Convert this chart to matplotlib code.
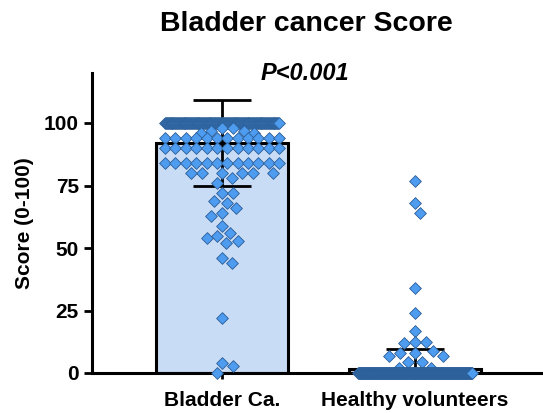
import matplotlib
matplotlib.use('Agg')
import matplotlib.pyplot as plt
import numpy as np

plt.rcParams['font.family'] = ['Liberation Sans', 'DejaVu Sans']
plt.rcParams['font.weight'] = 'bold'

groups = ['Bladder Ca.', 'Healthy volunteers']

# scores, value -> how many dots sit there
bladder_values = [100, 98, 97, 96, 94, 90, 84, 80, 78, 76, 72, 69, 68, 66, 64, 63,
                  59, 56, 55, 54, 53, 52, 46, 44, 22, 4, 3, 0]
bladder_counts = [124, 2, 2, 2, 12, 12, 12, 6, 1, 1, 2, 1, 1, 1, 1, 1,
                  1, 1, 1, 1, 1, 1, 1, 1, 1, 1, 1, 1]
healthy_values = [77, 68, 64, 34, 24, 17, 12.5, 12, 9, 8, 7, 4.5, 2, 0]
healthy_counts = [1, 1, 1, 1, 1, 1, 2, 1, 1, 2, 2, 2, 2, 230]

bladder = np.repeat(bladder_values, bladder_counts).astype(float)
healthy = np.repeat(healthy_values, healthy_counts).astype(float)
data = [bladder, healthy]

# pixel scales of the axes (for the dot layout)
XPX = 193.0   # px per category unit
YPX = 2.5     # px per score unit
D = 11.0      # dot spacing in px
HALF = 57.0   # max half spread in px


def swarm(vals):
    y = vals * YPX
    xs = np.zeros(len(vals))
    done = np.zeros(len(vals), bool)
    is_row = np.zeros(len(vals), bool)
    cap = int(2 * HALF // D) + 1
    u, c = np.unique(vals, return_counts=True)
    for v, n in zip(u, c):
        if n > cap:
            idx = np.where(vals == v)[0]
            xs[idx] = np.linspace(-HALF, HALF, n)
            done[idx] = True
            is_row[idx] = True
    order = np.argsort(-vals, kind='stable')
    for i in order:
        if done[i]:
            continue
        for skip_rows in (False, True):
            pl = np.where(done & ~(is_row & skip_rows))[0]
            cands = [0.0]
            for j in pl:
                dy = abs(y[j] - y[i])
                if dy < D:
                    dx = np.sqrt(D * D - dy * dy)
                    cands += [xs[j] + dx, xs[j] - dx]
            cands = sorted(cands, key=abs)
            ok = None
            for cx in cands:
                if abs(cx) > HALF + 0.01:
                    continue
                if len(pl) == 0 or np.all(np.hypot(xs[pl] - cx, y[pl] - y[i]) >= D - 0.01):
                    ok = cx
                    break
            if ok is not None:
                break
        xs[i] = ok if ok is not None else 0.0
        done[i] = True
    return xs / XPX


fig = plt.figure(figsize=(5.43, 4.13), dpi=100)
ax = fig.add_axes([92 / 543, 1 - 373 / 413, 451 / 543, 300 / 413])

pos = np.arange(len(groups))
means = [d.mean() for d in data]
sds = [d.std(ddof=1) for d in data]

ax.bar(pos, means, width=0.68, color='#C8DCF5', edgecolor='black', linewidth=2.2, zorder=1)
ax.errorbar(pos, means, yerr=sds, fmt='none', ecolor='black', elinewidth=2,
            capsize=21, capthick=2, zorder=2)

for p, d in zip(pos, data):
    ax.scatter(p + swarm(d), d, marker='D', s=36, color='#4D9CF0',
               edgecolor='#2C5E96', linewidth=0.6, zorder=3, clip_on=False)

ax.set_xlim(-0.674, 1.663)
ax.set_ylim(0, 120)
ax.set_yticks([0, 25, 50, 75, 100])
ax.set_xticks(pos)
ax.set_xticklabels(groups, fontsize=15, fontweight='bold')
ax.tick_params(axis='y', labelsize=15, width=2, length=6)
ax.tick_params(axis='x', width=2, length=4, pad=9)
for lab in ax.get_yticklabels():
    lab.set_fontweight('bold')
ax.set_ylabel('Score (0-100)', fontsize=15, fontweight='bold', labelpad=7)

ax.spines['top'].set_visible(False)
ax.spines['right'].set_visible(False)
ax.spines['left'].set_linewidth(2.2)
ax.spines['bottom'].set_linewidth(2.2)

fig.text(306 / 543, 1 - 24 / 413, 'Bladder cancer Score', ha='center', va='center',
         fontsize=20.5, fontweight='bold')
fig.text(305 / 543, 1 - 73 / 413, 'P<0.001', ha='center', va='center',
         fontsize=17, fontweight='bold', style='italic')

fig.savefig('out.png', dpi=100)
